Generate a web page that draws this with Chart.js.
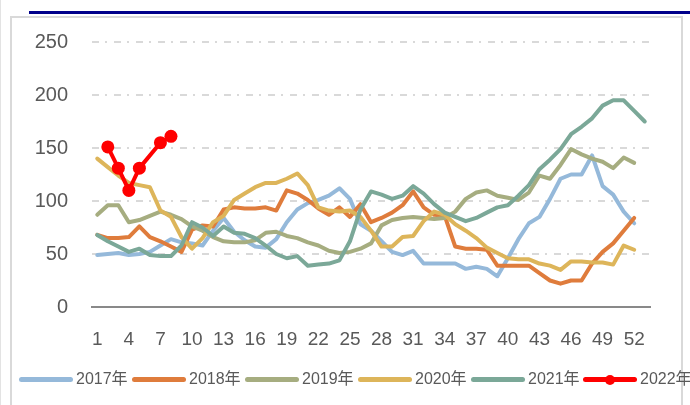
<!DOCTYPE html>
<html>
<head>
<meta charset="utf-8">
<script src="https://cdn.jsdelivr.net/npm/chart.js@4.4.0/dist/chart.umd.min.js"></script>
<style>
html,body{margin:0;padding:0;background:#fff;}
#wrap{position:relative;width:690px;height:405px;overflow:hidden;background:#fff;}
#edge{position:absolute;left:0;top:0;width:1px;height:405px;background:#E3E3E3;}
#frame{position:absolute;left:10px;top:16px;width:673px;height:391px;border:2px solid #D9D9D9;box-sizing:border-box;}
#topline{position:absolute;left:29px;top:11px;width:661px;height:3px;background:#00008B;}
#c{position:absolute;left:0;top:0;}
#legend{position:absolute;left:0;top:370px;width:690px;height:18px;font-family:'Liberation Sans','Noto Sans CJK SC',sans-serif;font-size:16px;color:#595959;white-space:nowrap;}
.item{position:absolute;top:0;height:18px;}
.sw{position:absolute;left:0;top:7px;width:54px;height:5px;border-radius:3px;}
.dot{position:absolute;left:22px;top:5px;width:10px;height:10px;border-radius:50%;}
.tx{position:absolute;left:57px;top:0;line-height:18px;}
</style>
</head>
<body>
<div id="wrap">
  <div id="edge"></div>
  <div id="frame"></div>
  <div id="topline"></div>
  <canvas id="c" width="690" height="405"></canvas>
  <div id="legend"></div>
</div>
<script>
const weeks = ['1','2','3','4','5','6','7','8','9','10','11','12','13','14','15','16','17','18','19','20',
  '21','22','23','24','25','26','27','28','29','30','31','32','33','34','35','36','37','38','39','40',
  '41','42','43','44','45','46','47','48','49','50','51','52','53'];

const seriesNames = ['2017年','2018年','2019年','2020年','2021年','2022年'];

const s2017 = [49,50,51,49,50,52,58,64,61,60,58,72,84,71,63,57,56,64,80,92,
  98,101,105,112,102,78,72,62,52,49,53,41,41,41,41,36,38,36,29,46,
  64,79,85,102,121,125,125,143,114,106,90,79];

const s2018 = [68,65,65,66,76,66,62,57,52,73,77,76,92,94,93,93,94,91,110,107,
  101,93,87,94,85,97,80,84,89,96,109,94,87,86,57,55,55,54,39,39,
  39,39,32,25,22,25,25,41,52,60,72,84];

const s2019 = [87,96,96,80,82,86,90,87,83,76,72,66,62,61,61,63,70,71,67,65,
  61,58,53,51,52,55,60,77,82,84,85,84,83,84,90,102,108,110,105,103,
  101,108,124,121,134,149,144,140,137,131,141,136];

const s2020 = [140,132,124,117,115,113,91,85,66,55,65,80,86,101,107,113,117,117,121,126,
  115,94,91,90,91,85,72,57,57,66,67,81,90,87,78,72,65,56,51,46,
  45,45,41,39,35,43,43,42,42,40,58,54];

const s2021 = [68,62,57,52,55,49,48,48,58,80,75,67,76,70,69,65,58,50,46,48,
  39,40,41,44,62,92,109,106,102,105,114,107,97,89,85,81,84,89,94,96,
  105,115,130,139,149,163,170,178,190,195,195,185,175];

const s2022 = [null,151,131,110,131,null,155,161];

const colors = ['#95B9DA','#DF7C3C','#A6AD80','#DDB55A','#7BA898','#FF0000'];
const allData = [s2017,s2018,s2019,s2020,s2021,s2022];

const datasets = allData.map((d,i) => ({
  label: seriesNames[i],
  data: d,
  borderColor: colors[i],
  backgroundColor: colors[i],
  borderWidth: 4,
  pointRadius: i === 5 ? 6.5 : 0,
  pointHoverRadius: i === 5 ? 6.5 : 0,
  pointBackgroundColor: colors[i],
  pointBorderColor: colors[i],
  pointBorderWidth: 0,
  tension: 0,
  spanGaps: true,
  fill: false,
  borderCapStyle: 'round',
  borderJoinStyle: 'round',
  order: 6 - i
}));

new Chart(document.getElementById('c'), {
  type: 'line',
  data: { labels: weeks, datasets },
  options: {
    responsive: false,
    animation: false,
    devicePixelRatio: 1,
    layout: { padding: { left: 0, right: 40, top: 42, bottom: 38 } },
    plugins: { legend: { display: false }, tooltip: { enabled: false } },
    scales: {
      x: {
        type: 'category',
        offset: true,
        grid: { display: false, drawTicks: false },
        border: { display: true, color: '#898989', width: 2 },
        afterFit: s => { s.height = 60; },
        ticks: {
          autoSkip: false, maxRotation: 0, minRotation: 0,
          color: '#595959', padding: 21,
          font: { family: "'Liberation Sans', sans-serif", size: 19 },
          callback: function(v, i) { return i % 3 === 0 ? this.getLabelForValue(v) : ''; }
        }
      },
      y: {
        min: 0, max: 250,
        afterFit: s => { s.width = 92; },
        grid: {
          drawTicks: false,
          lineWidth: 2,
          color: ctx => (ctx.tick && ctx.tick.value === 0) ? 'rgba(0,0,0,0)' : '#D9D9D9'
        },
        border: { display: false, dash: [7,6,2,7] },
        ticks: {
          stepSize: 50, color: '#595959', padding: 24,
          font: { family: "'Liberation Sans', sans-serif", size: 20 }
        }
      }
    }
  }
});

// HTML legend built from series names/colors
const legendX = [19,132,245,358,471,583];
const lg = document.getElementById('legend');
seriesNames.forEach((n,i) => {
  const it = document.createElement('div');
  it.className = 'item';
  it.style.left = legendX[i] + 'px';
  const sw = document.createElement('div');
  sw.className = 'sw'; sw.style.background = colors[i];
  it.appendChild(sw);
  if (i === 5) {
    const dt = document.createElement('div');
    dt.className = 'dot'; dt.style.background = colors[i];
    it.appendChild(dt);
  }
  const tx = document.createElement('span');
  tx.className = 'tx'; tx.textContent = n;
  it.appendChild(tx);
  lg.appendChild(it);
});
</script>
</body>
</html>
